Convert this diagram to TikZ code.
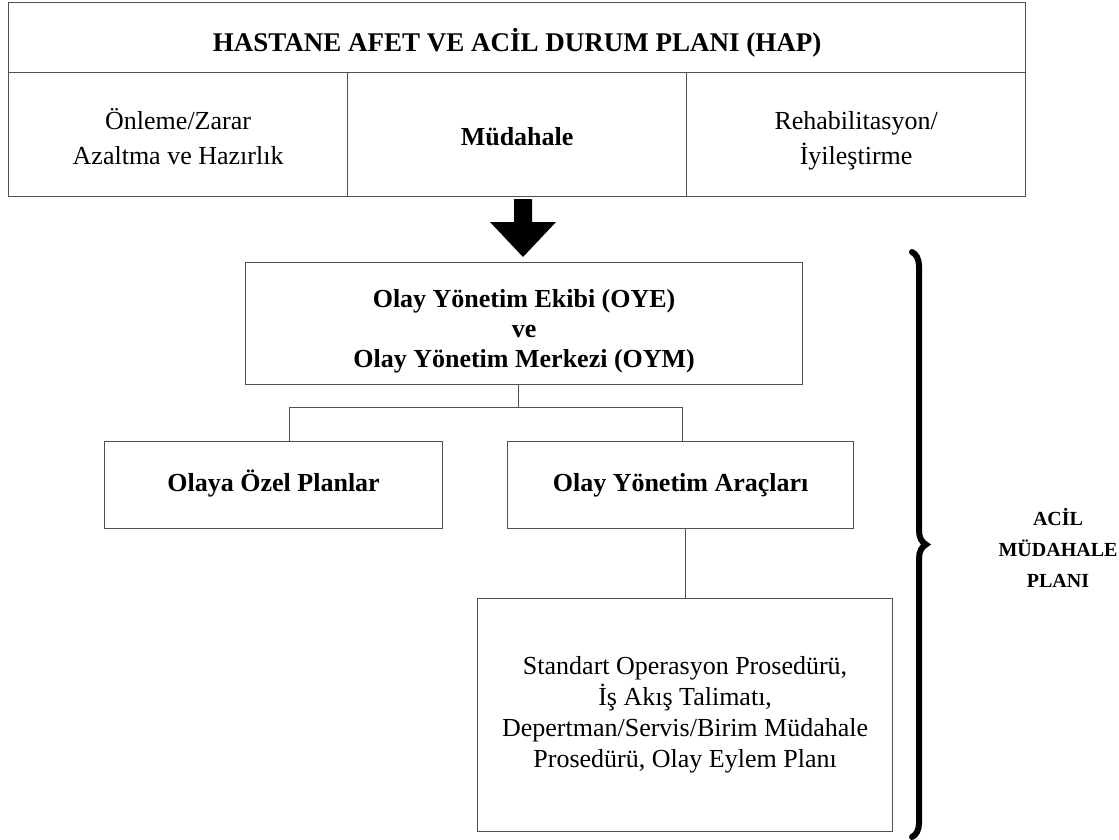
\documentclass[tikz,border=0pt]{standalone}
\usepackage{fontspec}
\setmainfont{Liberation Serif}
\usetikzlibrary{decorations.pathreplacing}
\definecolor{linegray}{HTML}{505050}
\newcommand{\topstrut}{\rule{0pt}{34.5pt}}
\begin{document}
\begin{tikzpicture}[x=1pt,y=-1pt,
  box/.style={draw=linegray, line width=1.2pt, inner sep=0pt, align=center,
    font=\fontsize{26}{31}\selectfont, anchor=north west},
  boldbox/.style={box, font=\bfseries\fontsize{26}{30}\selectfont},
  celltext/.style={font=\fontsize{26}{35}\selectfont},
  onetext/.style={text height=19pt, text depth=6pt},
  txt/.style={inner sep=0pt, align=center, font=\bfseries\fontsize{26}{30}\selectfont},
  conn/.style={draw=linegray, line width=1.2pt},
  bigarrow/.style={fill=black},
  bracestyle/.style={decorate, decoration={brace, amplitude=14pt}, line width=6pt, line cap=round}
]
\useasboundingbox[fill=white] (0,0) rectangle (1119,839);

% top table
\node[boldbox, font=\bfseries\fontsize{27}{30}\selectfont, minimum width=1017pt, minimum height=70pt] (title) at (8,2) {\raisebox{-5pt}[\height][\depth]{HASTANE AFET VE ACİL DURUM PLANI (HAP)}};
\node[box, celltext, minimum width=339pt, minimum height=124pt] (c1) at (8,72) {\topstrut Önleme/Zarar\\\strut Azaltma ve Hazırlık};
\node[boldbox, minimum width=339pt, minimum height=124pt] (c2) at (347,72) {\raisebox{-2pt}[\height][\depth]{Müdahale}};
\node[box, celltext, minimum width=339pt, minimum height=124pt] (c3) at (686,72) {\topstrut Rehabilitasyon/\\\strut İyileştirme};

% big arrow
\fill[bigarrow] (514,199) -- (532,199) -- (532,222) -- (556,222) -- (523,257) -- (490,222) -- (514,222) -- cycle;

% OYE
\node[box, minimum width=557pt, minimum height=122pt] (oye) at (245,262) {};
\node[txt] (oyetext) at ([yshift=-8pt]oye.center) {Olay Yönetim Ekibi (OYE)\\ve\\Olay Yönetim Merkezi (OYM)};

\node[boldbox, onetext, minimum width=338pt, minimum height=87pt] (olaya) at (104,441) {Olaya Özel Planlar};
\node[boldbox, onetext, minimum width=346pt, minimum height=87pt] (arac) at (507,441) {Olay Yönetim Araçları};

\node[box, minimum width=415pt, minimum height=233pt] (sop) at (477,598) {Standart Operasyon Prosedürü,\\İş Akış Talimatı,\\Depertman/Servis/Birim Müdahale\\Prosedürü, Olay Eylem Planı};

% connectors
\draw[conn] ([xshift=-5.5pt]oye.south) -- ++(0,22) coordinate (j);
\draw[conn] ([xshift=16pt]olaya.north) |- (j) -| ([xshift=2pt]arac.north);
\draw[conn] ([xshift=5pt]arac.south) -- ([xshift=5pt]arac.south |- sop.north);

% brace
\coordinate (bt) at (912,252);
\coordinate (bb) at (912,837);
\draw[bracestyle] (bt) -- (bb);
\node[font=\bfseries\fontsize{20}{31}\selectfont, align=center] (amp) at (1058,548) {ACİL\\MÜDAHALE\\PLANI};
\end{tikzpicture}
\end{document}
